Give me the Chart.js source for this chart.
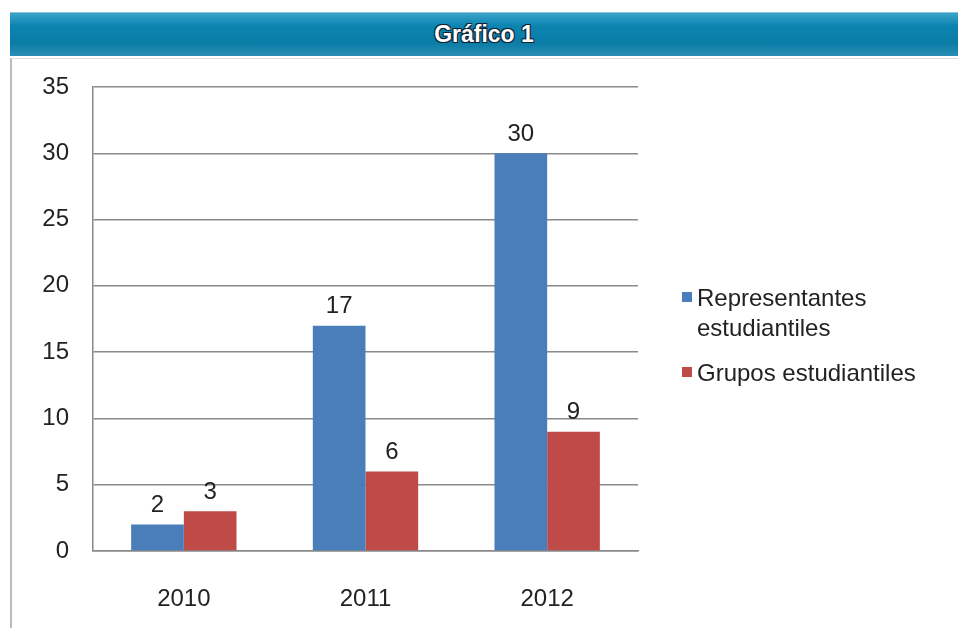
<!DOCTYPE html>
<html lang="es">
<head>
<meta charset="UTF-8">
<title>Gráfico 1</title>
<script src="https://cdn.jsdelivr.net/npm/chart.js"></script>
<style>
  body { margin: 0; width: 958px; height: 628px; background: #fff; position: relative; overflow: hidden; font-family: "Liberation Sans", Arial, sans-serif; }
  #banner {
    position: absolute; left: 10px; top: 12px; width: 948px; height: 43px;
    background: linear-gradient(#3aa3c9 0%, #0b84b0 30%, #0a7ca6 70%, #2a8fb6 100%);
    border-top: 1px solid #8cc6dc;
    color: #fff; font: bold 23px "Liberation Sans Narrow", "Liberation Sans", Arial, sans-serif; text-align: center; line-height: 43px;
    text-shadow: -1px -1px 0 #123, 1px -1px 0 #123, -1px 1px 0 #123, 1px 1px 0 #123;
  }
  #box { position: absolute; left: 10px; top: 58px; width: 948px; height: 570px; border-left: 2px solid #bbb; border-top: 1px solid #ddd; }
  #wrap { position: absolute; left: 0; top: 0; width: 946px; height: 570px; }
</style>
</head>
<body>
<div id="banner">Gráfico 1</div>
<div id="box"><div id="wrap"><canvas id="chart"></canvas></div></div>
<script>
// datos del gráfico
const years = ['2010', '2011', '2012'];
const representantes = [2, 17, 30];
const grupos = [3, 6, 9];
const seriesNames = [['Representantes', 'estudiantiles'], ['Grupos estudiantiles']];

const BLUE = '#4a7ebb';
const RED = '#be4b48';
const FONT = '"Liberation Sans", Arial, sans-serif';

// etiquetas de valor sobre cada barra
const valueLabels = {
  id: 'valueLabels',
  afterDatasetsDraw(chart) {
    const ctx = chart.ctx;
    ctx.save();
    ctx.font = '24px ' + FONT;
    ctx.fillStyle = '#222';
    ctx.textAlign = 'center';
    ctx.textBaseline = 'bottom';
    chart.data.datasets.forEach((ds, i) => {
      chart.getDatasetMeta(i).data.forEach((bar, j) => {
        ctx.fillText(ds.data[j], bar.x, bar.y - 7);
      });
    });
    ctx.restore();
  }
};

// leyenda dibujada a mano (texto en dos líneas)
const sideLegend = {
  id: 'sideLegend',
  afterDraw(chart) {
    const ctx = chart.ctx;
    ctx.save();
    ctx.font = '24px ' + FONT;
    ctx.textBaseline = 'middle';
    const x = 670, colors = [BLUE, RED];
    let y = 240;
    seriesNames.forEach((lines, i) => {
      ctx.fillStyle = colors[i];
      ctx.fillRect(x, y - 7, 10, 10);
      ctx.fillStyle = '#222';
      lines.forEach((t, k) => {
        ctx.fillText(t, x + 15, y + k * 30);
      });
      y += lines.length * 30 + 15;
    });
    ctx.restore();
  }
};

new Chart(document.getElementById('chart'), {
  type: 'bar',
  data: {
    labels: years,
    datasets: [
      { label: 'Representantes estudiantiles', data: representantes, backgroundColor: BLUE },
      { label: 'Grupos estudiantiles', data: grupos, backgroundColor: RED }
    ]
  },
  options: {
    responsive: true,
    maintainAspectRatio: false,
    animation: false,
    events: [],
    categoryPercentage: 0.58,
    barPercentage: 1,
    layout: { padding: { top: 28, right: 320, bottom: 0, left: 0 } },
    plugins: { legend: { display: false }, tooltip: { enabled: false } },
    scales: {
      x: {
        grid: { display: false, drawTicks: false },
        border: { color: '#888', width: 1.5 },
        ticks: { color: '#222', padding: 34, font: { size: 24, family: FONT } },
        afterFit(s) { s.height = 78; }
      },
      y: {
        min: 0, max: 35,
        grid: { color: '#8a8a8a', lineWidth: 1.5, drawTicks: false },
        border: { color: '#888', width: 1.5 },
        ticks: { stepSize: 5, color: '#222', padding: 24, font: { size: 24, family: FONT } },
        afterFit(s) { s.width = 81; s.paddingTop = 0; s.paddingBottom = 0; }
      }
    }
  },
  plugins: [valueLabels, sideLegend]
});
</script>
</body>
</html>
